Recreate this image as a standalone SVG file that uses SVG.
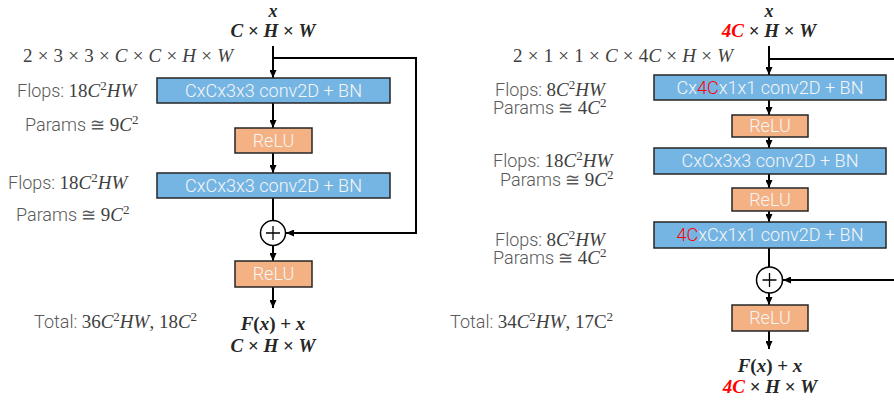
<svg xmlns="http://www.w3.org/2000/svg" width="894" height="400" viewBox="0 0 894 400">
<style>
.lbl{font-family:Roboto,"Liberation Sans",sans-serif;font-weight:300;font-size:18px;fill:#595959}
.m{font-family:"Liberation Serif",serif;font-size:19px;fill:#404040}
.mb{font-family:"Liberation Serif",serif;font-size:19px;fill:#262626;font-weight:bold}
.xt{font-size:18px}
.i{font-style:italic}
.sup{font-size:13px}
.red{fill:#FF0000}
.conv{fill:#75B5E4;stroke:#262626;stroke-width:1.5}
.relu{fill:#F4B183;stroke:#262626;stroke-width:1.5}
.bt{font-family:Roboto,"Liberation Sans",sans-serif;font-weight:300;font-size:17.5px;fill:#F5F5F5;text-anchor:middle}
.rt{font-family:Roboto,"Liberation Sans",sans-serif;font-weight:300;font-size:18px;fill:#F5F5F5;text-anchor:middle}
.ln{fill:none;stroke:#000;stroke-width:2}
.add{fill:#fff;stroke:#000;stroke-width:1.5}
</style>
<defs>
<marker id="ah" markerWidth="8" markerHeight="7" refX="8" refY="3.5" orient="auto" markerUnits="userSpaceOnUse"><path d="M0,0 L8,3.5 L0,7 z" fill="#000"/></marker>
</defs>

<g id="connectors">
<line class="ln" x1="273" y1="46" x2="273" y2="78" marker-end="url(#ah)"/>
<line class="ln" x1="273" y1="103" x2="273" y2="128" marker-end="url(#ah)"/>
<line class="ln" x1="273" y1="153" x2="273" y2="173" marker-end="url(#ah)"/>
<line class="ln" x1="273" y1="198" x2="273" y2="220"/>
<line class="ln" x1="273" y1="245" x2="273" y2="261" marker-end="url(#ah)"/>
<line class="ln" x1="273" y1="287" x2="273" y2="308" marker-end="url(#ah)"/>
<polyline class="ln" points="273,58 416,58 416,233 286,233" marker-end="url(#ah)"/>
<line class="ln" x1="769" y1="46" x2="769" y2="75" marker-end="url(#ah)"/>
<line class="ln" x1="769" y1="100" x2="769" y2="115" marker-end="url(#ah)"/>
<line class="ln" x1="769" y1="137" x2="769" y2="148" marker-end="url(#ah)"/>
<line class="ln" x1="769" y1="174" x2="769" y2="188" marker-end="url(#ah)"/>
<line class="ln" x1="769" y1="211" x2="769" y2="222" marker-end="url(#ah)"/>
<line class="ln" x1="769" y1="248" x2="769" y2="267"/>
<line class="ln" x1="769" y1="293" x2="769" y2="305" marker-end="url(#ah)"/>
<line class="ln" x1="769" y1="331" x2="769" y2="349" marker-end="url(#ah)"/>
<line class="ln" x1="769" y1="59" x2="894" y2="59"/>
<line class="ln" x1="894" y1="280" x2="783" y2="280" marker-end="url(#ah)"/>
</g>

<g id="l-input">
<text class="mb i xt" x="273" y="17" text-anchor="middle">x</text>
<text class="mb" x="273" y="37" text-anchor="middle"><tspan class="i">C</tspan> ×  <tspan class="i">H</tspan> × <tspan class="i">W</tspan></text>
</g>
<g id="l-dims">
<text class="m" x="23" y="62" textLength="210" lengthAdjust="spacing">2 × 3 × 3 × <tspan class="i">C</tspan> × <tspan class="i">C</tspan> × <tspan class="i">H</tspan> × <tspan class="i">W</tspan></text>
</g>
<g id="l-conv1">
<rect class="conv" x="157" y="78" width="233" height="25"/>
<text class="bt" x="273.5" y="97" textLength="177" lengthAdjust="spacingAndGlyphs">CxCx3x3 conv2D + BN</text>
</g>
<g id="l-relu1">
<rect class="relu" x="235" y="128" width="77" height="25"/>
<text class="rt" x="273.5" y="147">ReLU</text>
</g>
<g id="l-conv2">
<rect class="conv" x="157" y="173" width="233" height="25"/>
<text class="bt" x="273.5" y="192" textLength="177" lengthAdjust="spacingAndGlyphs">CxCx3x3 conv2D + BN</text>
</g>
<g id="l-add">
<circle class="add" cx="273" cy="233" r="12.5"/>
<path d="M266,233 H280 M273,226 V240" stroke="#000" stroke-width="1.3"/>
</g>
<g id="l-relu2">
<rect class="relu" x="235" y="261" width="77" height="26"/>
<text class="rt" x="273.5" y="280">ReLU</text>
</g>
<g id="l-output">
<text class="mb" x="273" y="330" text-anchor="middle"><tspan class="i">F</tspan>(<tspan class="i">x</tspan>) + <tspan class="i">x</tspan></text>
<text class="mb" x="273" y="352" text-anchor="middle"><tspan class="i">C</tspan> ×  <tspan class="i">H</tspan> × <tspan class="i">W</tspan></text>
</g>
<g id="l-labels">
<text class="lbl" x="17" y="97">Flops: <tspan class="m">18<tspan class="i">C</tspan><tspan class="sup" dy="-7">2</tspan><tspan class="i" dy="7">HW</tspan></tspan></text>
<text class="lbl" x="25" y="131">Params ≅ <tspan class="m">9<tspan class="i">C</tspan><tspan class="sup" dy="-7">2</tspan></tspan></text>
<text class="lbl" x="8" y="189">Flops: <tspan class="m">18<tspan class="i">C</tspan><tspan class="sup" dy="-7">2</tspan><tspan class="i" dy="7">HW</tspan></tspan></text>
<text class="lbl" x="16" y="221">Params ≅ <tspan class="m">9<tspan class="i">C</tspan><tspan class="sup" dy="-7">2</tspan></tspan></text>
<text class="lbl" x="34" y="328">Total: <tspan class="m">36<tspan class="i">C</tspan><tspan class="sup" dy="-7">2</tspan><tspan class="i" dy="7">HW</tspan>, 18<tspan class="i">C</tspan><tspan class="sup" dy="-7">2</tspan></tspan></text>
</g>

<g id="r-input">
<text class="mb i xt" x="769" y="17" text-anchor="middle">x</text>
<text class="mb" x="769" y="37" text-anchor="middle"><tspan class="i red">4C</tspan> × <tspan class="i">H</tspan> × <tspan class="i">W</tspan></text>
</g>
<g id="r-dims">
<text class="m" x="513" y="62" textLength="220" lengthAdjust="spacing">2 × 1 × 1 × <tspan class="i">C</tspan> × 4<tspan class="i">C</tspan> × <tspan class="i">H</tspan> × <tspan class="i">W</tspan></text>
</g>
<g id="r-conv1">
<rect class="conv" x="654" y="75" width="232" height="25"/>
<text class="bt" x="770" y="94" textLength="187" lengthAdjust="spacingAndGlyphs">Cx<tspan class="red">4C</tspan>x1x1 conv2D + BN</text>
</g>
<g id="r-relu1">
<rect class="relu" x="732" y="115" width="76" height="22"/>
<text class="rt" x="770" y="132">ReLU</text>
</g>
<g id="r-conv2">
<rect class="conv" x="654" y="148" width="232" height="26"/>
<text class="bt" x="770" y="167" textLength="177" lengthAdjust="spacingAndGlyphs">CxCx3x3 conv2D + BN</text>
</g>
<g id="r-relu2">
<rect class="relu" x="732" y="188" width="76" height="23"/>
<text class="rt" x="770" y="206">ReLU</text>
</g>
<g id="r-conv3">
<rect class="conv" x="654" y="222" width="232" height="26"/>
<text class="bt" x="770" y="241" textLength="187" lengthAdjust="spacingAndGlyphs"><tspan class="red">4C</tspan>xCx1x1 conv2D + BN</text>
</g>
<g id="r-add">
<circle class="add" cx="769.5" cy="280" r="13"/>
<path d="M762.5,280 H776.5 M769.5,273 V287" stroke="#000" stroke-width="1.3"/>
</g>
<g id="r-relu3">
<rect class="relu" x="732" y="305" width="76" height="26"/>
<text class="rt" x="770" y="324">ReLU</text>
</g>
<g id="r-output">
<text class="mb" x="770" y="372" text-anchor="middle"><tspan class="i">F</tspan>(<tspan class="i">x</tspan>) + <tspan class="i">x</tspan></text>
<text class="mb" x="770" y="393" text-anchor="middle"><tspan class="i red">4C</tspan> × <tspan class="i">H</tspan> × <tspan class="i">W</tspan></text>
</g>
<g id="r-labels">
<text class="lbl" x="495" y="96">Flops: <tspan class="m">8<tspan class="i">C</tspan><tspan class="sup" dy="-7">2</tspan><tspan class="i" dy="7">HW</tspan></tspan></text>
<text class="lbl" x="493" y="114">Params ≅ <tspan class="m">4<tspan class="i">C</tspan><tspan class="sup" dy="-7">2</tspan></tspan></text>
<text class="lbl" x="493" y="167">Flops: <tspan class="m">18<tspan class="i">C</tspan><tspan class="sup" dy="-7">2</tspan><tspan class="i" dy="7">HW</tspan></tspan></text>
<text class="lbl" x="500" y="186">Params ≅ <tspan class="m">9<tspan class="i">C</tspan><tspan class="sup" dy="-7">2</tspan></tspan></text>
<text class="lbl" x="495" y="246">Flops: <tspan class="m">8<tspan class="i">C</tspan><tspan class="sup" dy="-7">2</tspan><tspan class="i" dy="7">HW</tspan></tspan></text>
<text class="lbl" x="493" y="264">Params ≅ <tspan class="m">4<tspan class="i">C</tspan><tspan class="sup" dy="-7">2</tspan></tspan></text>
<text class="lbl" x="450" y="328">Total: <tspan class="m">34<tspan class="i">C</tspan><tspan class="sup" dy="-7">2</tspan><tspan class="i" dy="7">HW</tspan>, 17C<tspan class="sup" dy="-7">2</tspan></tspan></text>
</g>
</svg>
